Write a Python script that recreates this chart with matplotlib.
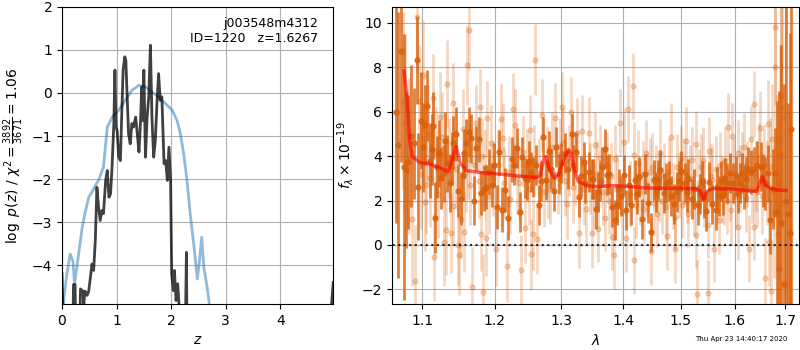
import numpy as np
import matplotlib
matplotlib.use('Agg')
import matplotlib.pyplot as plt

#p(z) curves (left panel)
z_prior = [0.0, 0.03, 0.09, 0.15, 0.20, 0.23, 0.28, 0.37, 0.42, 0.49, 0.55, 0.61, 0.67, 0.76,
           0.83, 0.92, 1.04, 1.16, 1.28, 1.41, 1.53, 1.65, 1.77, 1.90, 2.02, 2.11, 2.17, 2.23,
           2.29, 2.35, 2.42, 2.48, 2.52, 2.56, 2.60, 2.66, 2.70, 2.80]
lnp_prior = [-5.6, -4.82, -4.2, -3.74, -3.9, -4.43, -3.97, -3.12, -2.8, -2.42, -2.3, -2.15, -2.03, -1.72,
             -0.79, -0.56, -0.4, -0.17, 0.06, 0.18, 0.14, 0.02, -0.09, -0.25, -0.4, -0.64, -0.95, -1.41,
             -2.03, -2.81, -3.58, -4.32, -3.89, -3.35, -4.05, -4.51, -4.9, -5.6]

z_fit = [0.0, 0.03, 0.20, 0.21, 0.24, 0.25, 0.32, 0.34, 0.38, 0.40, 0.42, 0.46, 0.49, 0.55, 0.58,
         0.61, 0.64, 0.67, 0.70, 0.73, 0.76, 0.80, 0.83, 0.86, 0.89, 0.92, 0.95, 0.97, 0.99, 1.01,
         1.04, 1.07, 1.09, 1.12, 1.15, 1.17, 1.19, 1.22, 1.25, 1.28, 1.31, 1.35, 1.38, 1.41, 1.44,
         1.46, 1.48, 1.50, 1.53, 1.56, 1.59, 1.62, 1.65, 1.68, 1.71, 1.74, 1.77, 1.80, 1.83, 1.87,
         1.90, 1.93, 1.96, 1.99, 2.01, 2.04, 2.06, 2.09, 2.12, 2.14, 2.17, 2.26, 2.28, 2.29,
         4.90, 4.97]
lnp_fit = [-4.2, -5.6, -5.6, -4.45, -4.45, -5.6, -5.6, -4.55, -4.6, -4.9, -4.6, -4.7, -4.6, -3.97, -4.12,
           -3.43, -2.19, -2.65, -2.96, -2.73, -2.8, -2.03, -1.8, -2.42, -2.34, -1.64, -0.71, 0.53, -0.79, -0.87,
           -1.49, -1.57, -0.71, 0.53, 0.84, 0.76, 0.06, -0.95, -1.18, -0.71, -0.79, -0.56, -0.95, -1.37, -0.64,
           0.14, -0.64, 0.53, -1.49, -0.56, -0.09, 1.11, -0.64, -1.49, -1.1, -0.25, 0.45, -0.17, -0.09, -1.64,
           -1.57, -2.03, -1.26, -2.03, -4.2, -4.59, -4.12, -4.82, -4.43, -4.82, -5.6, -5.6, -3.7, -5.6,
           -5.6, -4.4]

#spectrum, darker beam
wave_a = [1.066, 1.069, 1.0723, 1.076, 1.079, 1.082, 1.085, 1.089, 1.093, 1.095, 1.098, 1.101, 1.104,
          1.107, 1.110, 1.113, 1.115, 1.117, 1.120, 1.122, 1.125, 1.129, 1.131, 1.134, 1.137, 1.140,
          1.142, 1.145, 1.149, 1.152, 1.155, 1.157, 1.160, 1.164, 1.167, 1.170, 1.174, 1.177, 1.181,
          1.185, 1.188, 1.192, 1.196, 1.199, 1.203, 1.206, 1.211, 1.215, 1.220, 1.225, 1.228, 1.233,
          1.237, 1.240, 1.244, 1.248, 1.251, 1.254, 1.257, 1.261, 1.265, 1.268, 1.272, 1.276, 1.281,
          1.284, 1.288, 1.292, 1.296, 1.300, 1.305, 1.310, 1.316, 1.319, 1.323, 1.328, 1.331, 1.335,
          1.338, 1.343, 1.348, 1.351, 1.355, 1.359, 1.362, 1.365, 1.369, 1.373, 1.377, 1.381, 1.386,
          1.390, 1.393, 1.397, 1.401, 1.405, 1.409, 1.414, 1.420, 1.424, 1.427, 1.432, 1.437, 1.443,
          1.447, 1.452, 1.456, 1.460, 1.464, 1.470, 1.474, 1.479, 1.483, 1.488, 1.494, 1.497, 1.501,
          1.508, 1.511, 1.514, 1.520, 1.524, 1.532, 1.535, 1.539, 1.543, 1.547, 1.552, 1.558, 1.564,
          1.567, 1.570, 1.574, 1.578, 1.582, 1.586, 1.592, 1.598, 1.602, 1.606, 1.610, 1.614, 1.618,
          1.622, 1.626, 1.631, 1.637, 1.644, 1.651, 1.655, 1.659, 1.666, 1.670, 1.675, 1.679, 1.684,
          1.688, 1.692, 1.697, 1.701, 1.705, 1.710, 1.713]
flux_a = [6.0, 4.5, 8.75, 3.5, 3.37, 3.74, 4.9, 4.57, 8.33, 2.62, 5.6, 4.4, 5.40,
          6.26, 3.8, 4.3, 5.37, 1.22, 3.5, 4.12, 3.0, 3.22, 4.7, 3.67, 2.8, 3.9,
          4.6, 5.0, 2.44, 2.09, 3.1, 4.12, 4.57, 5.1, 4.8, 1.99, 4.35, 4.75, 2.35,
          2.54, 2.62, 3.3, 2.7, 3.6, 1.71, 4.17, 1.59, 2.47, 1.22, 3.85, 3.59, 4.35,
          1.49, 3.97, 3.0, 2.92, 3.77, 3.3, 3.07, 3.6, 1.79, 2.9, 4.87, 2.92, 4.23,
          3.4, 2.44, 4.39, 3.2, 3.67, 4.15, 3.44, 4.99, 3.6, 4.18, 2.17, 3.1, 3.74,
          2.77, 3.29, 2.99, 2.95, 1.64, 2.39, 2.9, 3.52, 4.3, 3.14, 3.19, 1.71, 1.11,
          1.79, 2.54, 2.2, 3.14, 1.59, 2.7, 1.79, 2.92, 2.3, 3.04, 1.17, 3.19, 1.89,
          0.56, 2.92, 2.4, 2.92, 3.37, 2.32, 2.8, 2.89, 2.2, 1.86, 2.39, 2.9, 3.34,
          2.8, 2.4, 2.95, 2.09, 2.54, 1.79, 2.3, 2.89, 2.1, 1.53, 2.84, 1.86, 1.56,
          2.6, 2.2, 2.9, 2.24, 3.0, 2.8, 3.22, 2.77, 3.1, 2.32, 2.8, 3.22, 2.6,
          2.95, 3.4, 3.29, 3.4, 3.59, 3.52, 2.9, 2.77, 3.22, 1.11, 2.5, 3.25, 1.5,
          -1.07, 1.0, -1.74, 2.0, 1.41, 0.54, 5.2]
err_a = [5.0, 6.0, 5.0, 6.0, 3.5, 3.0, 3.2, 2.5, 2.0, 2.4, 2.2, 2.0, 1.8,
         1.6, 1.7, 1.6, 1.5, 1.6, 1.4, 1.5, 1.4, 1.3, 1.3, 1.3, 1.3, 1.2,
         1.2, 1.2, 1.2, 1.2, 1.1, 1.1, 1.1, 1.1, 1.1, 1.1, 1.0, 1.0, 1.0,
         1.0, 1.0, 1.0, 1.0, 1.0, 1.0, 1.0, 1.0, 1.0, 1.0, 1.0, 0.9, 0.9,
         0.9, 0.9, 0.9, 0.9, 0.9, 0.9, 0.9, 0.9, 0.9, 0.9, 0.9, 0.9, 0.9,
         0.9, 0.9, 0.9, 0.9, 0.9, 0.9, 0.9, 0.9, 0.9, 0.9, 0.9, 0.9, 0.9,
         0.9, 0.9, 0.9, 0.9, 0.9, 0.9, 0.9, 0.9, 0.9, 0.9, 0.9, 0.9, 0.9,
         0.9, 0.9, 0.9, 0.9, 0.9, 0.9, 0.9, 0.9, 0.9, 0.9, 0.9, 0.9, 0.9,
         0.9, 0.9, 0.9, 0.9, 0.9, 0.9, 0.9, 0.9, 0.9, 0.9, 0.9, 0.9, 0.9,
         0.9, 0.9, 0.9, 0.9, 0.9, 0.9, 0.9, 0.9, 0.9, 0.9, 0.9, 0.9, 0.9,
         0.9, 0.9, 0.9, 0.9, 0.9, 0.9, 0.9, 0.9, 0.9, 0.9, 0.9, 0.9, 1.0,
         1.0, 1.0, 1.0, 1.0, 1.1, 1.1, 1.2, 1.2, 1.3, 1.5, 1.8, 2.0, 5.0,
         8.0, 8.0, 9.0, 9.0, 5.0, 9.0, 10.0]

#spectrum, lighter beams
wave_b = [1.075, 1.078, 1.083, 1.087, 1.091, 1.093, 1.096, 1.099, 1.101, 1.104, 1.105, 1.108, 1.111,
          1.115, 1.116, 1.119, 1.121, 1.124, 1.127, 1.129, 1.132, 1.133, 1.136, 1.139, 1.141, 1.142,
          1.146, 1.148, 1.150, 1.152, 1.155, 1.157, 1.159, 1.161, 1.163, 1.162, 1.165, 1.168, 1.171,
          1.174, 1.177, 1.179, 1.180, 1.182, 1.183, 1.186, 1.187, 1.189, 1.192, 1.195, 1.198, 1.202,
          1.205, 1.209, 1.212, 1.214, 1.218, 1.221, 1.223, 1.226, 1.230, 1.232, 1.235, 1.238, 1.241,
          1.244, 1.247, 1.250, 1.252, 1.253, 1.256, 1.258, 1.260, 1.263, 1.266, 1.270, 1.273, 1.277,
          1.280, 1.283, 1.286, 1.290, 1.294, 1.298, 1.301, 1.302, 1.305, 1.308, 1.312, 1.315, 1.318,
          1.321, 1.324, 1.328, 1.332, 1.335, 1.339, 1.343, 1.346, 1.348, 1.352, 1.354, 1.357, 1.359,
          1.362, 1.366, 1.370, 1.373, 1.376, 1.379, 1.381, 1.384, 1.387, 1.390, 1.395, 1.398, 1.401,
          1.404, 1.408, 1.411, 1.416, 1.418, 1.419, 1.422, 1.425, 1.429, 1.433, 1.436, 1.438, 1.441,
          1.445, 1.448, 1.449, 1.453, 1.456, 1.458, 1.461, 1.464, 1.467, 1.470, 1.473, 1.476, 1.479,
          1.482, 1.486, 1.489, 1.490, 1.493, 1.496, 1.500, 1.503, 1.506, 1.510, 1.512, 1.514, 1.517,
          1.521, 1.524, 1.527, 1.528, 1.530, 1.533, 1.536, 1.540, 1.543, 1.549, 1.550, 1.552, 1.555,
          1.558, 1.562, 1.565, 1.570, 1.573, 1.576, 1.579, 1.582, 1.585, 1.588, 1.591, 1.593, 1.595,
          1.599, 1.603, 1.606, 1.607, 1.611, 1.615, 1.619, 1.622, 1.625, 1.628, 1.631, 1.634, 1.637,
          1.638, 1.641, 1.644, 1.647, 1.650, 1.653, 1.657, 1.660, 1.663, 1.666, 1.667, 1.670, 1.672,
          1.674, 1.677, 1.679, 1.680, 1.683, 1.686, 1.689, 1.691, 1.692, 1.693]
flux_b = [6.5, 5.5, 4.0, 1.17, -1.62, 10.26, 6.5, 3.2, 7.65, 1.94, 2.69, 5.0, 3.0,
          6.6, -0.54, 4.2, 2.3, 5.77, 4.87, 0.14, 0.66, 7.25, 3.9, 0.54, 1.76, 6.41,
          3.4, -0.02, -0.47, 1.19, 5.2, 0.59, 3.3, 8.1, 9.68, 3.89, 2.7, -1.89, 3.6,
          5.5, 2.9, 6.2, 0.51, 4.0, -2.12, 3.5, 0.32, 5.7, 2.2, 4.6, 3.0, -0.17,
          3.6, 5.67, 4.8, 2.8, -0.96, 3.3, 2.09, 6.12, 5.4, 3.0, 2.77, -1.14, 4.2,
          0.78, 3.6, 2.5, 5.17, -0.42, 0.48, 3.8, 8.33, 0.27, 3.2, 5.85, 2.4, 3.7,
          2.8, 2.54, 4.4, 5.71, 3.0, 4.1, 6.2, 4.57, 2.9, 1.86, 3.8, 5.98, 2.6,
          3.4, 5.02, 0.54, 5.13, 2.5, 1.64, 5.05, 3.0, 0.54, 2.2, 4.5, 3.2, 0.74,
          3.9, 2.4, 1.23, 3.6, 2.0, 3.1, 0.36, -0.47, 3.89, 2.6, 5.5, 1.5, 4.65,
          0.29, 6.12, 2.3, 7.16, 4.05, -0.69, 1.8, 3.67, 2.4, 3.2, 1.6, 4.12, 2.7,
          3.3, -0.29, 3.52, 1.9, 3.0, 1.41, 2.6, 4.15, 2.0, 3.1, 1.71, 0.39, 3.3,
          4.87, 2.2, -0.2, 1.26, 3.5, 2.7, 3.89, 1.8, 3.3, 4.69, 2.5, 1.41, 3.0,
          3.82, 1.9, 0.44, 4.54, -2.2, 2.8, 3.5, 3.82, 2.3, 0.89, -2.17, 4.24, 3.1,
          2.92, -0.17, 3.4, 1.11, 3.6, 2.5, 2.39, 3.8, 2.0, 5.32, 2.6, 1.56, 4.9,
          3.3, 2.2, 0.81, 4.12, 3.0, 3.6, 4.42, 2.1, 3.2, -0.17, 4.75, 2.5, 0.81,
          6.35, 3.1, 2.39, 3.9, 5.25, 2.2, 3.6, -1.49, 2.8, 5.44, 0.14, 3.5, -2.08,
          4.75, 1.5, 9.8, 8.03, 2.8, 0.5, 4.0, 6.75, 6.15, 5.74]
err_b = [4.0, 4.0, 3.5, 3.0, 2.5, 2.5, 2.5, 2.5, 2.5, 2.2, 2.2, 2.2, 2.2,
         2.0, 2.0, 2.0, 2.0, 2.0, 2.0, 2.0, 2.0, 2.0, 1.8, 1.8, 1.8, 1.8,
         1.8, 1.8, 1.8, 1.8, 1.8, 1.8, 1.8, 1.8, 1.8, 1.8, 1.8, 1.8, 1.7,
         1.7, 1.7, 1.7, 1.7, 1.7, 1.7, 1.7, 1.7, 1.7, 1.7, 1.7, 1.7, 1.7,
         1.6, 1.6, 1.6, 1.6, 1.6, 1.6, 1.6, 1.6, 1.6, 1.6, 1.6, 1.6, 1.6,
         1.6, 1.6, 1.6, 1.6, 1.6, 1.6, 1.6, 1.6, 1.6, 1.6, 1.6, 1.6, 1.6,
         1.6, 1.6, 1.6, 1.6, 1.6, 1.6, 1.6, 1.6, 1.6, 1.6, 1.6, 1.6, 1.6,
         1.6, 1.6, 1.6, 1.6, 1.6, 1.6, 1.6, 1.6, 1.6, 1.5, 1.5, 1.5, 1.5,
         1.5, 1.5, 1.5, 1.5, 1.5, 1.5, 1.5, 1.5, 1.5, 1.5, 1.5, 1.5, 1.5,
         1.5, 1.5, 1.5, 1.5, 1.5, 1.5, 1.5, 1.5, 1.5, 1.5, 1.5, 1.5, 1.5,
         1.5, 1.5, 1.5, 1.5, 1.5, 1.5, 1.5, 1.5, 1.5, 1.5, 1.5, 1.5, 1.5,
         1.5, 1.5, 1.5, 1.5, 1.5, 1.5, 1.5, 1.5, 1.5, 1.5, 1.5, 1.5, 1.5,
         1.5, 1.5, 1.5, 1.5, 1.5, 1.5, 1.5, 1.5, 1.5, 1.5, 1.5, 1.5, 1.5,
         1.5, 1.5, 1.5, 1.5, 1.5, 1.5, 1.5, 1.5, 1.5, 1.5, 1.5, 1.5, 1.5,
         1.5, 1.5, 1.5, 1.5, 1.5, 1.5, 1.5, 1.5, 1.5, 1.5, 1.5, 1.5, 1.5,
         1.5, 1.6, 1.6, 1.6, 1.7, 1.7, 1.8, 1.8, 1.9, 2.0, 2.0, 2.2, 2.3,
         2.5, 3.0, 3.5, 3.5, 4.0, 4.5, 5.0, 5.0, 5.0, 5.0]

#best-fit model
wave_model = [1.0765, 1.0807, 1.0836, 1.0871, 1.0975, 1.1106, 1.1241, 1.1353, 1.1412, 1.1458, 1.1514,
              1.1606, 1.1793, 1.2033, 1.2326, 1.2624, 1.2672, 1.2722, 1.2764, 1.2814, 1.2888, 1.2954,
              1.3032, 1.3111, 1.3150, 1.3202, 1.3269, 1.3403, 1.3565, 1.3836, 1.4122, 1.4413, 1.4694,
              1.4993, 1.5296, 1.5357, 1.5418, 1.5479, 1.5572, 1.5917, 1.6238, 1.6434, 1.6499, 1.6545,
              1.6596, 1.6696, 1.6832, 1.7022]
flux_model = [7.82, 6.54, 4.74, 3.98, 3.71, 3.64, 3.46, 3.31, 3.91, 4.43, 3.68,
              3.35, 3.26, 3.20, 3.11, 3.04, 3.11, 3.83, 3.98, 3.38, 3.01, 3.16,
              3.83, 4.29, 4.14, 3.38, 2.86, 2.66, 2.63, 2.67, 2.63, 2.56, 2.55,
              2.55, 2.53, 2.41, 2.06, 2.41, 2.53, 2.53, 2.45, 2.41, 2.86, 3.08,
              2.71, 2.56, 2.48, 2.45]

c_spec = '#d9600a'

fig = plt.figure(figsize=(8, 3.5), dpi=100)

#p(z)
ax = fig.add_axes([0.0775, 0.1314, 0.339, 0.849])
ax.plot(z_prior, lnp_prior, color='#1f77b4', alpha=0.5, lw=2)
ax.plot(z_fit, lnp_fit, color='k', alpha=0.75, lw=2)
ax.set_xlim(0, 4.97)
ax.set_ylim(-4.9, 2)
ax.set_xticks([0, 1, 2, 3, 4])
ax.set_yticks([-4, -3, -2, -1, 0, 1, 2])
ax.grid()
ax.set_xlabel('$z$')
ax.set_ylabel(r'$\log\ p(z)$' + ' / ' + r'$\chi^2=\frac{3892}{3671}=1.06$')
ax.text(0.945, 0.965, 'j003548m4312\nID=1220   z=1.6267', ha='right', va='top',
        transform=ax.transAxes, fontsize=9)

#spectrum
ax2 = fig.add_axes([0.49, 0.1314, 0.509, 0.849])
ax2.errorbar(wave_b, flux_b, yerr=err_b, color=c_spec, alpha=0.25, marker='o', ms=3.5,
             linestyle='None', elinewidth=2, capsize=0)
ax2.errorbar(wave_a, flux_a, yerr=err_a, color=c_spec, alpha=0.8, marker='o', ms=3.5,
             linestyle='None', elinewidth=2, capsize=0)
ax2.plot(wave_model, flux_model, color='r', alpha=0.6, lw=2.5, zorder=10)
ax2.plot([1.0, 1.8], [0, 0], color='k', linestyle=':', lw=1.5, alpha=0.8, zorder=11)
ax2.semilogx()
ax2.set_xlim(1.061, 1.729)
ax2.set_ylim(-2.66, 10.72)
xt = [1.1, 1.2, 1.3, 1.4, 1.5, 1.6, 1.7]
ax2.set_xticks(xt)
ax2.set_xticklabels(['%.1f' % x for x in xt])
ax2.xaxis.set_minor_locator(matplotlib.ticker.NullLocator())
ax2.set_yticks([-2, 0, 2, 4, 6, 8, 10])
ax2.grid()
ax2.set_xlabel(r'$\lambda$')
ax2.set_ylabel(r'$f_\lambda \times 10^{-19}$')

fig.text(0.984, 0.031, 'Thu Apr 23 14:40:17 2020', ha='right', va='center', fontsize=5)

fig.savefig('out.png', dpi=100)
